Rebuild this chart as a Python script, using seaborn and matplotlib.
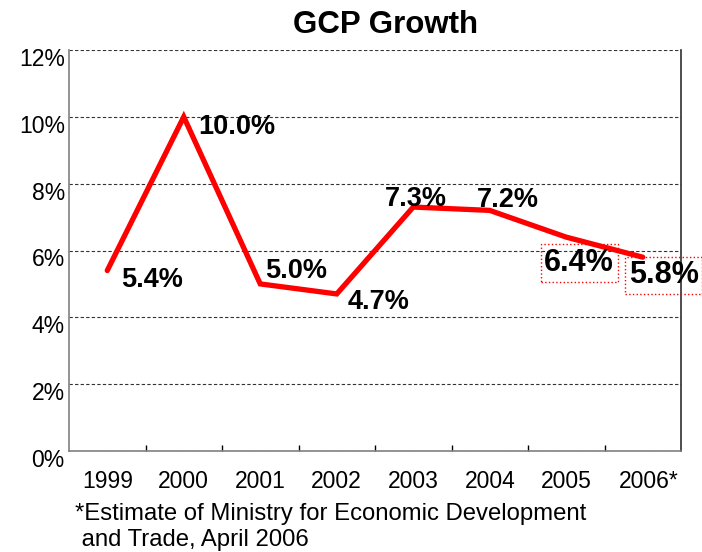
import matplotlib
matplotlib.use("Agg")
import matplotlib.pyplot as plt
from matplotlib.ticker import FixedLocator, PercentFormatter
from matplotlib.transforms import ScaledTranslation
import seaborn as sns
import pandas as pd

# GCP growth by year, percent
years = ["1999", "2000", "2001", "2002", "2003", "2004", "2005", "2006*"]
growth = [5.4, 10.0, 5.0, 4.7, 7.3, 7.2, 6.4, 5.8]
value_labels = ["5.4%", "10.0%", "5.0%", "4.7%", "7.3%", "7.2%", "6.4%", "5.8%"]
y_ticks = [0, 2, 4, 6, 8, 10, 12]

title = "GCP Growth"
footnote = "*Estimate of Ministry for Economic Development\n and Trade, April 2006"

# label placement (pixel offsets from each point, left-aligned text) and emphasis
label_offsets = [(14, -9), (15, -10), (5, 13), (11, -8), (-28, 8), (-13, 10), (-22, -26), (-14, -18)]
boxed = [False, False, False, False, False, False, True, True]

sns.set_theme(style="white")
plt.rcParams["font.family"] = ["Liberation Sans", "DejaVu Sans"]

df = pd.DataFrame({"year": years, "growth": growth})

fig = plt.figure(figsize=(7.02, 5.52), dpi=100)
ax = fig.add_axes([69 / 702, 1 - 451 / 552, (681 - 69) / 702, (451 - 50) / 552])

sns.lineplot(data=df, x="year", y="growth", ax=ax, color="#ff0000",
             linewidth=3.8, solid_joinstyle="miter", sort=False)

ax.set_xlim(-0.5, len(years) - 0.5)
ax.set_ylim(0, 12)
ax.set_xlabel("")
ax.set_ylabel("")

ax.yaxis.set_major_locator(FixedLocator(y_ticks))
ax.yaxis.set_major_formatter(PercentFormatter(decimals=0))
ax.set_xticks(range(len(years)))
ax.set_xticklabels(years)
ax.set_xticks([i + 0.5 for i in range(len(years) - 1)], minor=True)

ax.tick_params(axis="y", which="major", length=0, labelsize=16.5, pad=3, labelcolor="#000000")
ax.tick_params(axis="x", which="major", length=0, labelsize=16.5, pad=14, labelcolor="#000000")
ax.tick_params(axis="x", which="minor", bottom=True, direction="in", length=4,
               width=1, color="#000000")

# y labels sit slightly below their gridlines
shift = ScaledTranslation(0, -7 / 100, fig.dpi_scale_trans)
for lab in ax.get_yticklabels():
    lab.set_transform(lab.get_transform() + shift)

# the footnote asterisk hangs past the centred year
last = ax.get_xticklabels()[-1]
last.set_transform(last.get_transform() + ScaledTranslation(6 / 100, 0, fig.dpi_scale_trans))

ax.grid(axis="y", which="major", linestyle=(0, (3, 2)), color="#333333", linewidth=0.8)
ax.grid(axis="x", visible=False)

ax.spines["top"].set_visible(False)
ax.spines["left"].set_color("#808080")
ax.spines["bottom"].set_color("#808080")
ax.spines["right"].set_color("#303030")
for side in ("left", "bottom", "right"):
    ax.spines[side].set_linewidth(1.2)

for i, (val, lab, (dx, dy), box) in enumerate(zip(growth, value_labels, label_offsets, boxed)):
    kw = dict(fontsize=22 if box else 19.5, fontweight="bold", color="#000000",
              ha="left", va="center", xy=(i, val), xytext=(dx, dy),
              textcoords="offset pixels", annotation_clip=False)
    if box:
        kw["bbox"] = dict(boxstyle="square,pad=0.12", facecolor="none",
                          edgecolor="#ff0000", linestyle=":", linewidth=1.0)
    ax.annotate(lab, **kw)

fig.text(386 / 702, 1 - 25 / 552, title, ha="center", va="center",
         fontsize=22.5, fontweight="bold", color="#000000")
fig.text(75 / 702, 1 - 527 / 552, footnote, ha="left", va="center",
         fontsize=17.2, color="#000000", linespacing=1.18)

fig.savefig("out.png", dpi=100)
